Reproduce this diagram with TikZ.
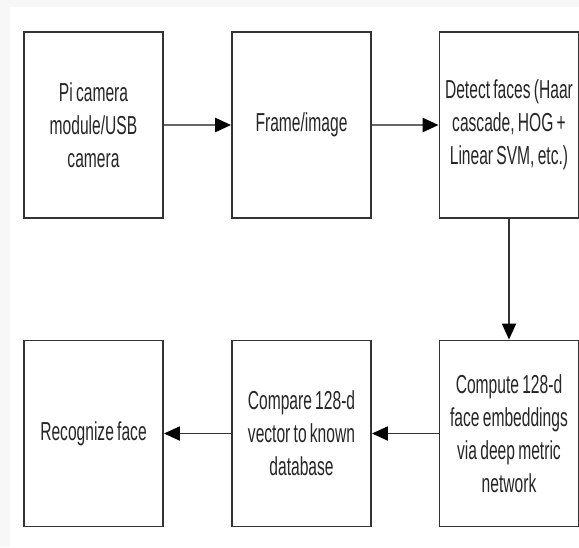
\documentclass[tikz,border=0pt]{standalone}
\usepackage{fontspec}
\setmainfont{Liberation Sans}[FakeStretch=0.6,WordSpace=0.75]
\usetikzlibrary{arrows.meta}
\begin{document}
\begin{tikzpicture}[x=1pt,y=-1pt,
  blockbox/.style={draw=black!80, line width=1.8pt, fill=white, minimum width=139pt, minimum height=186pt, inner sep=0pt, align=center, font=\fontsize{26}{33}\selectfont, text=black!85},
  flowarrow/.style={draw=black!60, line width=2.6pt, -{Triangle[length=16pt,width=14pt,color=black,fill=black]}},
  darkarrow/.style={flowarrow, draw=black!80, line width=1.8pt}]
\useasboundingbox (0,0) rectangle (579,547);
\fill[black!3] (0,0) rectangle (579,547);
\fill[white] (10,7) rectangle (579,547);
\node[blockbox] (cam) at (93.5,125) {Pi camera\\module/USB\\camera};
\node[blockbox] (frame) at (301.5,125) {Frame/image};
\node[blockbox] (detect) at (509,125) {Detect faces (Haar\\cascade, HOG +\\Linear SVM, etc.)};
\node[blockbox] (recog) at (93.5,433.5) {Recognize face};
\node[blockbox] (compare) at (301.5,433.5) {Compare 128-d\\vector to known\\database};
\node[blockbox] (compute) at (509,433.5) {Compute 128-d\\face embeddings\\via deep metric\\network};
\draw[flowarrow] (cam) -- (frame);
\draw[flowarrow] (frame) -- (detect);
\draw[darkarrow] (detect) -- (compute);
\draw[darkarrow] (compute) -- (compare);
\draw[darkarrow] (compare) -- (recog);
\end{tikzpicture}
\end{document}
